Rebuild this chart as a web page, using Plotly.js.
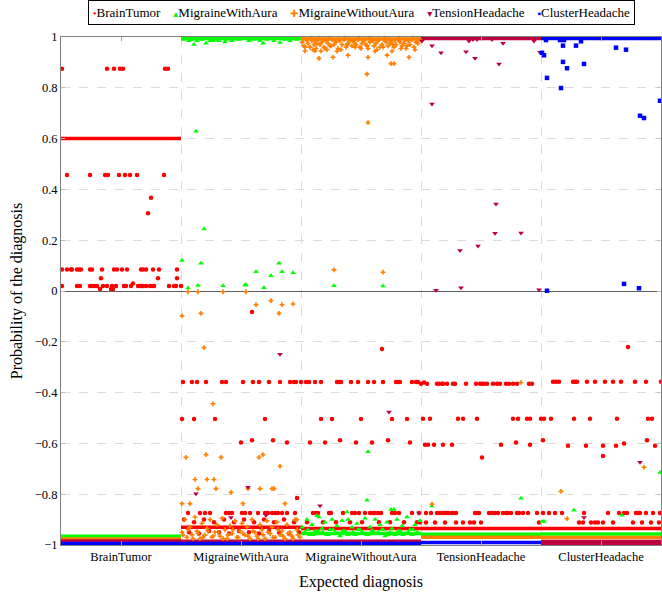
<!DOCTYPE html>
<html><head><meta charset="utf-8">
<script src="https://cdn.plot.ly/plotly-3.0.1.min.js"></script>
<style>html,body{margin:0;padding:0;background:#fff}#c{width:662px;height:592px}</style>
</head><body><div id="c"></div>
<script>
const categories = ["BrainTumor","MigraineWithAura","MigraineWithoutAura","TensionHeadache","ClusterHeadache"];
const catCenters = [60,180,300,420,540];
const catBounds = [120,240,360,480];
const yTickVals = [-1,-0.8,-0.6,-0.4,-0.2,0,0.2,0.4,0.6,0.8,1];
const yTickText = ["−1","−0.8","−0.6","−0.4","−0.2","0","0.2","0.4","0.6","0.8","1"];
const legendGlyphs = ["•","▴","✚","▾","▪"];

// BrainTumor (red)
const btX = [1,46,53,59,62,104,107, 6,29,44,47,58,64,69,76,103, 90,87,
 1,6,10,11,16,18,20,29,31,41,53,56,61,66,80,82,85,92,98,116, 40,97,116,
 1,16,19,29,31,33,35,36,42,46,51,55,63,65,70,77,79,81,82,85,89,91,93,108,113,115,120, 72, 39,50,52,
 191, 122,131,136,145,161,165,182,192,198,208,219,229,233,240, 121,133,154,204, 180,191,212,226, 236,
 127,139,144,149,165,168,171,181,184,189,197,204,207,211,214,217,221,226,234,
 123,128,133,138,143,148,153,158,163,168,173,178,183,188,193,198,203,208,213,218,223,228,233,238,
 321, 235,245,248,254,260,276,278,280,290,297,307,313,322,335,337,339,351,355,357,
 260,271,300,331,346, 249,264,279,295,311,327,349,
 252,255,257,268,270,282,291,294,298,304,309,312,314,317,320,331,334,338,351,358,
 246,262,275,289,301,318,329,343,356,
 360,363,366,376,378,381,382,386,392,394,405,415,419,421,423,426,432,436,439,445,448,452,456,468,471,
 362,369,397,402,416,452,457,466,469, 364,367,373,382,391,440,455,469, 421,
 492,495,498,512,514,516,526,534,544,552,560,574,585,600,
 480,483,490,513,529,556,587,591, 482,507,525,542,555,563,586,594, 542, 567,
 365,370,376,379,382,384,386,388,391,392,395,414,416,418,428,431,434,437,442,445,447,450,456,458,462,467,476,
 482,488,494,501,523,547,558,563,566,575,577,579,585,592,599,
 359,365,374,384,395,402,409,413,420, 478,518,522,530,534,537,542,552,572,581,590,598];
const btY = [0.875,0.875,0.875,0.875,0.875,0.875,0.875, 0.457,0.457,0.457,0.457,0.457,0.457,0.457,0.457,0.457, 0.367,0.306,
 0.085,0.085,0.085,0.085,0.085,0.085,0.085,0.085,0.085,0.085,0.085,0.085,0.085,0.085,0.085,0.085,0.085,0.085,0.085,0.085, 0.05,0.05,0.05,
 0.02,0.02,0.02,0.02,0.02,0.02,0.02,0.02,0.02,0.02,0.02,0.02,0.02,0.02,0.02,0.02,0.02,0.02,0.02,0.02,0.02,0.02,0.02,0.02,0.02,0.02,0.02, 0.03, 0.008,0.008,0.008,
 -0.083, -0.358,-0.358,-0.358,-0.358,-0.358,-0.358,-0.358,-0.358,-0.358,-0.358,-0.358,-0.358,-0.358,-0.358, -0.504,-0.504,-0.504,-0.504, -0.596,-0.588,-0.588,-0.596, -0.815,
 -0.874,-0.874,-0.874,-0.874,-0.874,-0.874,-0.874,-0.874,-0.874,-0.874,-0.874,-0.874,-0.874,-0.874,-0.874,-0.874,-0.874,-0.874,-0.874,
 -0.9,-0.95,-0.91,-0.955,-0.9,-0.945,-0.91,-0.95,-0.9,-0.955,-0.91,-0.945,-0.9,-0.95,-0.91,-0.955,-0.9,-0.945,-0.91,-0.95,-0.9,-0.955,-0.91,-0.95,
 -0.228, -0.358,-0.358,-0.358,-0.358,-0.358,-0.358,-0.358,-0.358,-0.358,-0.358,-0.358,-0.358,-0.358,-0.358,-0.358,-0.358,-0.358,-0.358,-0.358,
 -0.504,-0.504,-0.504,-0.504,-0.504, -0.596,-0.596,-0.588,-0.596,-0.596,-0.588,-0.596,
 -0.874,-0.874,-0.874,-0.874,-0.874,-0.874,-0.874,-0.874,-0.874,-0.874,-0.874,-0.874,-0.874,-0.874,-0.874,-0.874,-0.874,-0.874,-0.874,-0.874,
 -0.91,-0.91,-0.91,-0.91,-0.91,-0.91,-0.91,-0.91,-0.91,
 -0.365,-0.36,-0.365,-0.365,-0.365,-0.365,-0.365,-0.365,-0.365,-0.365,-0.365,-0.365,-0.365,-0.365,-0.365,-0.365,-0.365,-0.365,-0.365,-0.365,-0.365,-0.365,-0.365,-0.365,-0.365,
 -0.503,-0.503,-0.503,-0.503,-0.503,-0.503,-0.503,-0.503,-0.503, -0.605,-0.605,-0.605,-0.605,-0.605,-0.605,-0.596,-0.605, -0.656,
 -0.357,-0.357,-0.357,-0.357,-0.357,-0.357,-0.357,-0.357,-0.357,-0.357,-0.357,-0.357,-0.357,-0.357,
 -0.503,-0.503,-0.503,-0.503,-0.503,-0.503,-0.503,-0.503, -0.588,-0.609,-0.609,-0.609,-0.609,-0.6,-0.588,-0.609, -0.65, -0.22,
 -0.874,-0.874,-0.874,-0.874,-0.874,-0.874,-0.874,-0.874,-0.874,-0.874,-0.874,-0.874,-0.874,-0.874,-0.874,-0.874,-0.874,-0.874,-0.874,-0.874,-0.874,-0.874,-0.874,-0.874,-0.874,-0.874,-0.874,
 -0.874,-0.874,-0.874,-0.874,-0.874,-0.874,-0.874,-0.874,-0.874,-0.874,-0.874,-0.874,-0.874,-0.874,-0.874,
 -0.911,-0.911,-0.911,-0.911,-0.911,-0.911,-0.911,-0.911,-0.911, -0.911,-0.911,-0.911,-0.911,-0.911,-0.911,-0.911,-0.911,-0.911,-0.911,-0.911,-0.911];

// MigraineWithAura (green)
const mwaX = [123,128,131,136,141,149,155,158,166,171,177,188,193,199,206,213,224,229,236,
 133,145,164,202,219,152, 135,143,121,140,218,195,221,232,210,127,137,162,184,185,203, 273,322,
 307,306,599,460,513,371,481,483,561,
 241,244,246,249,251,254,256,259,261,264,266,269,271,274,276,279,281,284,286,289,291,294,296,299,
 301,304,306,309,311,314,316,319,321,324,326,329,331,334,336,339,341,344,346,349,351,354,356,359,
 242,247,252,257,262,267,272,277,282,287,292,297,302,307,312,317,322,327,332,337,342,347,352,357,
 330,333,258,287];
const mwaY = [0.99,0.985,0.99,0.985,0.99,0.985,0.99,0.985,0.99,0.985,0.99,0.985,0.99,0.985,0.99,0.985,0.99,0.985,0.99,
 0.97,0.975,0.98,0.975,0.978,0.985, 0.629,0.244,0.12,0.109,0.109,0.076,0.076,0.072,0.06,0.012,0.022,0.021,0.024,0.024,0.013, 0.021,0.02,
 -0.633,-0.824,-0.715,-0.816,-0.863,-0.846,-0.907,-0.907,-0.883,
 -0.93,-0.95,-0.9,-0.96,-0.92,-0.945,-0.885,-0.955,-0.935,-0.91,-0.96,-0.94,-0.9,-0.95,-0.925,-0.965,-0.905,-0.945,-0.87,-0.955,-0.93,-0.96,-0.915,-0.94,
 -0.95,-0.895,-0.96,-0.93,-0.945,-0.9,-0.955,-0.92,-0.94,-0.965,-0.91,-0.95,-0.935,-0.96,-0.9,-0.945,-0.925,-0.955,-0.89,-0.94,-0.96,-0.92,-0.95,-0.905,
 -0.955,-0.94,-0.96,-0.945,-0.95,-0.96,-0.94,-0.955,-0.945,-0.96,-0.95,-0.94,-0.955,-0.96,-0.945,-0.95,-0.94,-0.96,-0.955,-0.945,-0.96,-0.95,-0.94,-0.955,
 -0.86,-0.86,-0.89,-0.9];

// MigraineWithoutAura (orange)
const mwoX = [241,243,245,247,249,251,253,255,257,259,261,263,265,267,269,271,273,275,277,279,281,283,285,287,289,291,293,295,297,299,
 301,303,305,307,309,311,313,315,317,319,321,323,325,327,329,331,333,335,337,339,341,343,345,347,349,351,353,355,357,359,
 242,246,250,254,258,262,268,274,278,284,288,292,298,302,308,312,318,324,328,334,338,344,348,352,356,
 244,252,256,264,270,280,286,294,300,306,316,322,332,340,346,354,
 244,254,260,258,266,272,276,287,307,314,326,331,330,333,348,306,307,273,322,
 121,127,137,162,185,140,218,195,221,210,232,143,152,125,160,198,145,202,219,134,146,153,137,155,170,187,199,211,213,121,129,182,224,
 121,124,126,129,131,134,136,139,141,144,146,149,151,154,156,159,161,164,166,169,171,174,176,179,
 181,184,186,189,191,194,196,199,201,204,206,209,211,214,216,219,221,224,226,229,231,234,236,239,
 122,127,132,137,142,147,152,157,162,167,172,177,182,187,192,197,202,207,212,217,222,227,232,237,
 460,583,500,371,506,236];
const mwoY = [0.98,0.965,0.99,0.975,0.96,0.985,0.97,0.955,0.99,0.97,0.98,0.96,0.985,0.975,0.965,0.99,0.97,0.98,0.955,0.985,0.97,0.99,0.96,0.975,0.985,0.965,0.98,0.97,0.99,0.96,
 0.975,0.985,0.97,0.955,0.98,0.99,0.965,0.975,0.985,0.96,0.97,0.99,0.98,0.965,0.975,0.985,0.96,0.97,0.99,0.98,0.965,0.975,0.955,0.985,0.97,0.99,0.96,0.98,0.975,0.99,
 0.995,0.99,0.995,0.985,0.995,0.99,0.995,0.985,0.99,0.995,0.99,0.985,0.995,0.99,0.995,0.985,0.99,0.995,0.99,0.985,0.995,0.99,0.985,0.995,0.99,
 0.96,0.95,0.975,0.955,0.965,0.95,0.97,0.96,0.955,0.965,0.95,0.96,0.97,0.955,0.965,0.95,
 0.945,0.945,0.945,0.916,0.95,0.92,0.944,0.928,0.92,0.944,0.928,0.944,0.895,0.895,0.92,0.854,0.663,0.083,0.074,
 -0.098,-0.003,-0.003,-0.003,-0.003,-0.088,-0.088,-0.054,-0.054,-0.038,-0.051,-0.223,-0.444,-0.655,-0.655,-0.655,-0.644,-0.644,-0.69,-0.742,-0.742,-0.742,-0.778,-0.778,-0.793,-0.778,-0.778,-0.778,-0.778,-0.837,-0.837,-0.837,-0.837,
 -0.95,-0.9,-0.97,-0.93,-0.96,-0.89,-0.945,-0.975,-0.915,-0.96,-0.935,-0.9,-0.97,-0.95,-0.92,-0.965,-0.895,-0.94,-0.975,-0.925,-0.955,-0.905,-0.97,-0.945,
 -0.915,-0.96,-0.93,-0.975,-0.9,-0.95,-0.965,-0.92,-0.94,-0.975,-0.905,-0.955,-0.93,-0.97,-0.91,-0.96,-0.945,-0.975,-0.92,-0.95,-0.965,-0.9,-0.94,-0.97,
 -0.96,-0.94,-0.975,-0.955,-0.97,-0.945,-0.965,-0.95,-0.975,-0.96,-0.94,-0.97,-0.955,-0.965,-0.945,-0.975,-0.96,-0.95,-0.97,-0.94,-0.965,-0.955,-0.975,-0.96,
 -0.36,-0.694,-0.789,-0.839,-0.896,-0.9];

// TensionHeadache (purple)
const thX = [361,371,380,408,412,416,431,442,473,405,414,438,479,371,435,434,460,417,399,400,375,478,
 219,135,187,170,205,328,259,358,579,523];
const thY = [0.984,0.966,0.938,0.984,0.99,0.99,0.99,0.975,0.984,0.942,0.916,0.894,0.94,0.736,0.343,0.227,0.228,0.177,0.159,0.013,0.003,0.005,
 -0.249,-0.798,-0.773,-0.892,-0.883,-0.476,-0.845,-0.874,-0.674,-0.892];

// ClusterHeadache (blue)
const chX = [485,499,503,502,515,520,555,565,481,483,502,523,506,486,500,599,579,583,563,578,486];
const chY = [0.988,0.988,0.988,0.966,0.966,0.983,0.958,0.95,0.938,0.928,0.902,0.894,0.877,0.839,0.799,0.749,0.69,0.681,0.028,0.011,0.001];

// dense runs of points (drawn as bands): class index, first and last sample, value
const bandCls = [0,1,2,3,4,
                 1,2,3,4,
                 0,3,4,
                 0,1,3,4,
                 0,1,2,4,
                 0,1,2,3,3];
const bandX0 =  [0,120,240,360,480,
                 0,0,0,0,
                 120,120,120,
                 240,240,240,240,
                 360,360,360,360,
                 480,480,480,480,480];
const bandX1 =  [120,240,360,480,600,
                 120,120,120,120,
                 240,240,240,
                 360,360,360,360,
                 480,480,480,480,
                 600,600,600,600,600];
const bandV =   [0.6,0.994,0.992,0.994,0.994,
                 -0.966,-0.976,-0.984,-0.994,
                 -0.93,-0.985,-0.994,
                 -0.935,-0.955,-0.985,-0.994,
                 -0.935,-0.958,-0.969,-0.99,
                 -0.935,-0.957,-0.97,-0.986,-0.995];

const colors = ["#ff0000","#00ff00","#ff8000","#bf0040","#0000ff"];
const symbols = ["circle","triangle-up","cross","triangle-down","square"];
const sizes = [4.5,5,4,5,4.5];
const dataX = [btX,mwaX,mwoX,thX,chX];
const dataY = [btY,mwaY,mwoY,thY,chY];

const traces = [];
for (let i=0;i<bandCls.length;i++){
  traces.push({type:"scatter",mode:"lines",x:[bandX0[i],bandX1[i]],y:[bandV[i],bandV[i]],
    line:{color:colors[bandCls[i]],width:3.5},showlegend:false,hoverinfo:"skip"});
}
for (let k=0;k<5;k++){
  traces.push({type:"scatter",mode:"markers",name:categories[k],x:dataX[k],y:dataY[k],showlegend:false,
    marker:{color:colors[k],symbol:symbols[k],size:sizes[k],line:{width:0}},cliponaxis:false});
}

const font = {family:"Liberation Serif, DejaVu Serif, serif",color:"#000"};
const legendText = categories.map((c,k)=>'<span style="color:'+colors[k]+';font-size:10px">'+legendGlyphs[k]+'</span>'+c).join("&#160;&#160;&#160;&#160;");
const layout = {
  width:662,height:592,
  margin:{l:61,r:1,t:37,b:47},
  paper_bgcolor:"#fff",plot_bgcolor:"#fff",
  font:Object.assign({size:13},font),
  showlegend:false,
  annotations:[{xref:"paper",yref:"paper",x:0.5,y:1.049,xanchor:"center",yanchor:"middle",showarrow:false,
    text:legendText,font:Object.assign({size:13},font),bordercolor:"#000",borderwidth:1,borderpad:4,bgcolor:"#fff"}],
  xaxis:{range:[0,600],tickvals:catCenters,ticktext:categories,ticks:"inside",ticklen:4,tickcolor:"#a0a0a0",
    showline:true,linecolor:"#808080",mirror:"ticks",showgrid:false,zeroline:false,
    tickfont:Object.assign({size:12.5},font),
    minor:{tickvals:catBounds,showgrid:true,gridcolor:"#dcdcdc",griddash:"dash",gridwidth:1,ticks:""},
    title:{text:"Expected diagnosis",font:Object.assign({size:16},font),standoff:12}},
  yaxis:{range:[-1,1],tickvals:yTickVals,ticktext:yTickText,ticks:"inside",ticklen:4,tickcolor:"#c0c0c0",
    showline:true,linecolor:"#808080",mirror:"ticks",showgrid:true,gridcolor:"#dcdcdc",griddash:"dash",
    zeroline:true,zerolinecolor:"#606060",zerolinewidth:1,
    tickfont:Object.assign({size:12.5},font),
    title:{text:"Probability of the diagnosis",font:Object.assign({size:16},font),standoff:8}}
};
Plotly.newPlot("c",traces,layout,{displayModeBar:false,staticPlot:true});
</script></body></html>
